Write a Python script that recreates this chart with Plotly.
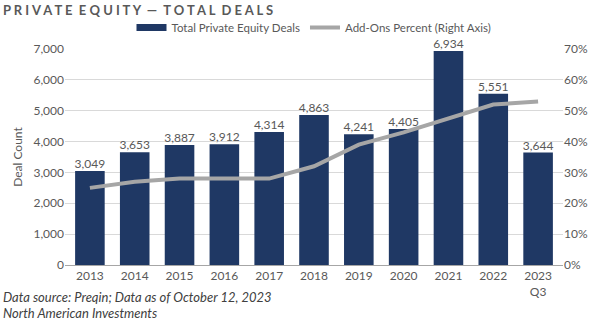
import plotly.graph_objects as go

years = ["2013", "2014", "2015", "2016", "2017", "2018", "2019", "2020", "2021", "2022", "2023<br>Q3"]
deals = [3049, 3653, 3887, 3912, 4314, 4863, 4241, 4405, 6934, 5551, 3644]
addon_pct = [25, 27, 28, 28, 28, 32, 39, 43, 47.5, 52, 53]
deal_ticks = [0, 1000, 2000, 3000, 4000, 5000, 6000, 7000]
pct_ticks = [0, 10, 20, 30, 40, 50, 60, 70]

FONT = "Lato, Open Sans, sans-serif"
TXT = "#595959"
NAVY = "#1F3864"

fig = go.Figure()
fig.add_trace(go.Bar(
    x=years, y=deals, name="Total Private Equity Deals",
    marker=dict(color=NAVY, line=dict(width=0)),
    width=0.66, showlegend=False, legendgroup="bars",
))
# legend entry for bars (wide swatch, like the reference)
fig.add_trace(go.Scatter(
    x=[None], y=[None], name="Total Private Equity Deals", mode="lines",
    line=dict(color=NAVY, width=7), legendgroup="bars",
))
fig.add_trace(go.Scatter(
    x=years, y=addon_pct, name="Add-Ons Percent (Right Axis)", yaxis="y2",
    mode="lines", line=dict(color="#A6A6A6", width=4),
))
# data labels
fig.add_trace(go.Scatter(
    x=years, y=deals, mode="text", text=[f"{v:,}" for v in deals],
    textposition="top center", textfont=dict(size=12, color=TXT, family=FONT),
    showlegend=False, cliponaxis=False, hoverinfo="skip",
))

fig.update_layout(
    width=600, height=321,
    margin=dict(l=65, r=35, t=49, b=56),
    paper_bgcolor="white", plot_bgcolor="white",
    font=dict(family=FONT, size=12, color=TXT),
    showlegend=True,
    legend=dict(orientation="h", x=0.5, xanchor="center", y=1.1, yanchor="middle",
                font=dict(size=11.5, color=TXT), traceorder="normal",
                bgcolor="rgba(0,0,0,0)", itemwidth=30, tracegroupgap=0),
    xaxis=dict(showgrid=False, showline=True, linecolor="#A6A6A6", linewidth=1,
               ticks="", tickfont=dict(size=12, color=TXT)),
    yaxis=dict(range=[0, 7000], tickvals=deal_ticks,
               ticktext=[f"{v:,}" for v in deal_ticks], showgrid=True,
               gridcolor="#D9D9D9", gridwidth=1, zeroline=False,
               title=dict(text="Deal Count", font=dict(size=12, color=TXT), standoff=8),
               tickfont=dict(size=12, color=TXT)),
    yaxis2=dict(range=[0, 70], tickvals=pct_ticks,
                ticktext=[f"{v}%" for v in pct_ticks], overlaying="y",
                side="right", showgrid=False, zeroline=False,
                tickfont=dict(size=12, color=TXT)),
    annotations=[
        dict(text="<b>P R I V A T E  E Q U I T Y  —  T O T A L  D E A L S</b>",
             xref="paper", yref="paper", x=-0.128, y=1.18, xanchor="left", yanchor="middle",
             showarrow=False, font=dict(size=13, color="#595959", family=FONT)),
        dict(text="<i>Data source: Preqin; Data as of October 12, 2023</i>",
             xref="paper", yref="paper", x=-0.128, y=-0.15, xanchor="left", yanchor="middle",
             showarrow=False, font=dict(size=13, color="#404040", family=FONT)),
        dict(text="<i>North American Investments</i>",
             xref="paper", yref="paper", x=-0.128, y=-0.222, xanchor="left", yanchor="middle",
             showarrow=False, font=dict(size=13, color="#404040", family=FONT)),
    ],
)

fig.write_html("out.html")
